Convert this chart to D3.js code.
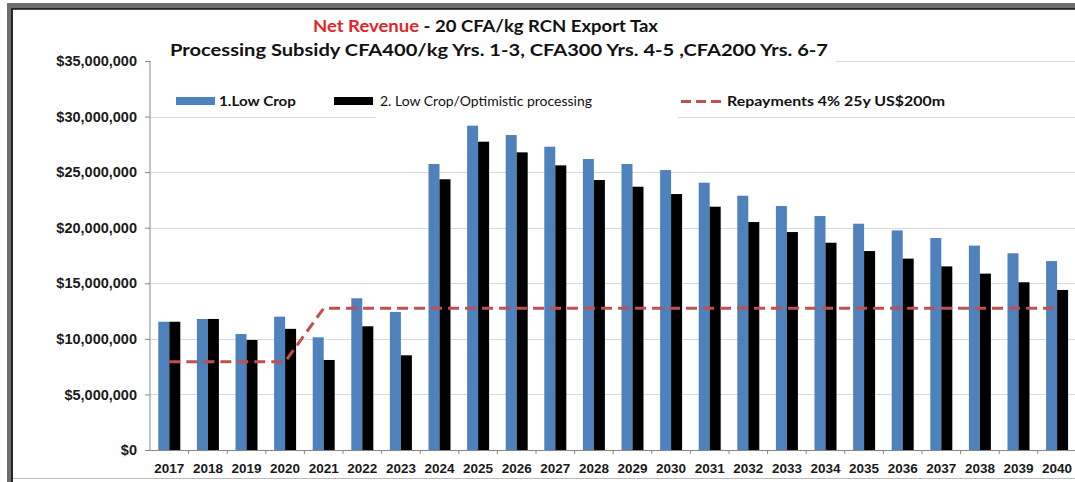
<!DOCTYPE html>
<html>
<head>
<meta charset="utf-8">
<script src="https://cdn.jsdelivr.net/npm/d3@7"></script>
<style>
  body { margin: 0; background: #fff; }
  svg { display: block; font-family: Lato, "Open Sans", sans-serif; }
  .tick text { font-weight: bold; fill: #1a1a1a; }
</style>
</head>
<body>
<svg width="1075" height="482"></svg>
<script>
// data
const years = ["2017","2018","2019","2020","2021","2022","2023","2024","2025","2026","2027","2028",
  "2029","2030","2031","2032","2033","2034","2035","2036","2037","2038","2039","2040"];
const lowCrop = [11.54, 11.79, 10.44, 12.0, 10.14, 13.65, 12.42, 25.73, 29.18, 28.34, 27.29, 26.18,
  25.73, 25.19, 24.05, 22.88, 21.95, 21.05, 20.36, 19.76, 19.07, 18.39, 17.7, 17.0].map(v => v * 1e6);
const optimistic = [11.54, 11.79, 9.9, 10.9, 8.1, 11.13, 8.52, 24.36, 27.74, 26.78, 25.61, 24.29,
  23.69, 23.03, 21.89, 20.51, 19.61, 18.65, 17.9, 17.22, 16.52, 15.87, 15.09, 14.4].map(v => v * 1e6);
const repayments = [7.95, 7.95, 7.95, 7.95, 12.75, 12.75, 12.75, 12.75, 12.75, 12.75, 12.75, 12.75,
  12.75, 12.75, 12.75, 12.75, 12.75, 12.75, 12.75, 12.75, 12.75, 12.75, 12.75, 12.75].map(v => v * 1e6);
const yTicks = [0, 5e6, 10e6, 15e6, 20e6, 25e6, 30e6, 35e6];

const blue = "#4f81bd", red = "#c0504d", grid = "#d9d9d9", axisCol = "#868686";

const svg = d3.select("svg");
const plotLeft = 150, plotBottom = 450, plotTop = 61;

const x = d3.scaleBand().domain(years).range([plotLeft, plotLeft + 24 * 38.6]);
const x1 = d3.scaleBand().domain(["a", "b"]).range([0, 22]);
const off = (x.bandwidth() - 22) / 2;
const y = d3.scaleLinear().domain([0, 35e6]).range([plotBottom, plotTop]);

// frame of the screenshot
svg.append("rect").attr("x", 7).attr("y", 3).attr("width", 1068).attr("height", 6).attr("fill", "#6e6e6e");
svg.append("rect").attr("x", 7).attr("y", 3).attr("width", 6).attr("height", 479).attr("fill", "#6e6e6e");
svg.append("path").attr("d", "M12,482V9H1075").attr("fill", "none").attr("stroke", "#111").attr("stroke-width", 1.5);
svg.append("line").attr("x1", 13).attr("x2", 1075).attr("y1", 478.5).attr("y2", 478.5)
  .attr("stroke", "#bbb");

// gridlines
svg.append("g").selectAll("line").data(yTicks.slice(1)).enter().append("line")
  .attr("x1", plotLeft).attr("x2", 1075)
  .attr("y1", d => Math.round(y(d)) + 0.5).attr("y2", d => Math.round(y(d)) + 0.5)
  .attr("stroke", grid).attr("stroke-width", 1.2);

// y axis
const yAxis = svg.append("g").attr("transform", `translate(${plotLeft},0)`)
  .call(d3.axisLeft(y).tickValues(yTicks).tickSize(5).tickPadding(8)
    .tickFormat(d => "$" + d3.format(",")(d)));
yAxis.selectAll("text").style("font-size", "14.5px");
yAxis.selectAll("line, path").attr("stroke", axisCol);
yAxis.select(".domain").attr("d", `M0,${plotBottom}V${plotTop}`);

// x axis
const xAxis = svg.append("g").attr("transform", `translate(0,${plotBottom})`)
  .call(d3.axisBottom(x).tickSize(0).tickPadding(13));
xAxis.selectAll("text").style("font-size", "13.5px");
xAxis.select(".domain").attr("stroke", axisCol).attr("d", `M${plotLeft},0.5H1075`);
svg.append("g").selectAll("line").data(years).enter().append("line")
  .attr("x1", d => x(d) + x.bandwidth()).attr("x2", d => x(d) + x.bandwidth())
  .attr("y1", plotBottom).attr("y2", plotBottom + 4).attr("stroke", axisCol);

// bars
const g = svg.append("g");
g.selectAll("rect.low").data(years).enter().append("rect").attr("class", "low")
  .attr("x", (d, i) => x(d) + off + x1("a")).attr("width", x1.bandwidth())
  .attr("y", (d, i) => y(lowCrop[i])).attr("height", (d, i) => plotBottom - y(lowCrop[i]))
  .attr("fill", blue);
g.selectAll("rect.opt").data(years).enter().append("rect").attr("class", "opt")
  .attr("x", (d, i) => x(d) + off + x1("b")).attr("width", x1.bandwidth())
  .attr("y", (d, i) => y(optimistic[i])).attr("height", (d, i) => plotBottom - y(optimistic[i]))
  .attr("fill", "#000");

// repayments line
const line = d3.line().x((d, i) => x(years[i]) + x.bandwidth() / 2).y(d => y(d));
svg.append("path").datum(repayments).attr("d", line)
  .attr("fill", "none").attr("stroke", red).attr("stroke-width", 3)
  .attr("stroke-dasharray", "11,6");

// title
svg.append("rect").attr("x", plotLeft + 1).attr("y", 38).attr("width", 685).attr("height", 26).attr("fill", "#fff");
const t1 = svg.append("text").attr("x", 313).attr("y", 32)
  .attr("textLength", 345).attr("lengthAdjust", "spacingAndGlyphs")
  .style("font-size", "17px").style("font-weight", "bold");
t1.append("tspan").attr("fill", "#e0262b").text("Net Revenue");
t1.append("tspan").attr("fill", "#111").text(" - 20 CFA/kg RCN Export Tax");
svg.append("text").attr("x", 170).attr("y", 56)
  .attr("textLength", 658).attr("lengthAdjust", "spacingAndGlyphs")
  .style("font-size", "17px").style("font-weight", "bold").attr("fill", "#111")
  .text("Processing Subsidy CFA400/kg Yrs. 1-3, CFA300 Yrs. 4-5 ,CFA200 Yrs. 6-7");

// legend
const leg = svg.append("g");
leg.append("rect").attr("x", 376).attr("y", 88).attr("width", 302).attr("height", 32).attr("fill", "#fff");
leg.append("rect").attr("x", 176).attr("y", 97).attr("width", 39).attr("height", 8).attr("fill", blue);
leg.append("text").attr("x", 219).attr("y", 106).attr("textLength", 77).attr("lengthAdjust", "spacingAndGlyphs")
  .style("font-size", "14px").style("font-weight", "bold").attr("fill", "#111").text("1.Low Crop");
leg.append("rect").attr("x", 334).attr("y", 97).attr("width", 39).attr("height", 8).attr("fill", "#000");
leg.append("text").attr("x", 380).attr("y", 106).attr("textLength", 212).attr("lengthAdjust", "spacingAndGlyphs")
  .style("font-size", "13px").attr("fill", "#111").text("2. Low Crop/Optimistic processing");
leg.append("line").attr("x1", 681).attr("x2", 722).attr("y1", 101.5).attr("y2", 101.5)
  .attr("stroke", red).attr("stroke-width", 3).attr("stroke-dasharray", "10,5");
leg.append("text").attr("x", 727).attr("y", 106).attr("textLength", 218).attr("lengthAdjust", "spacingAndGlyphs")
  .style("font-size", "14px").style("font-weight", "bold").attr("fill", "#111").text("Repayments 4% 25y US$200m");
</script>
</body>
</html>
